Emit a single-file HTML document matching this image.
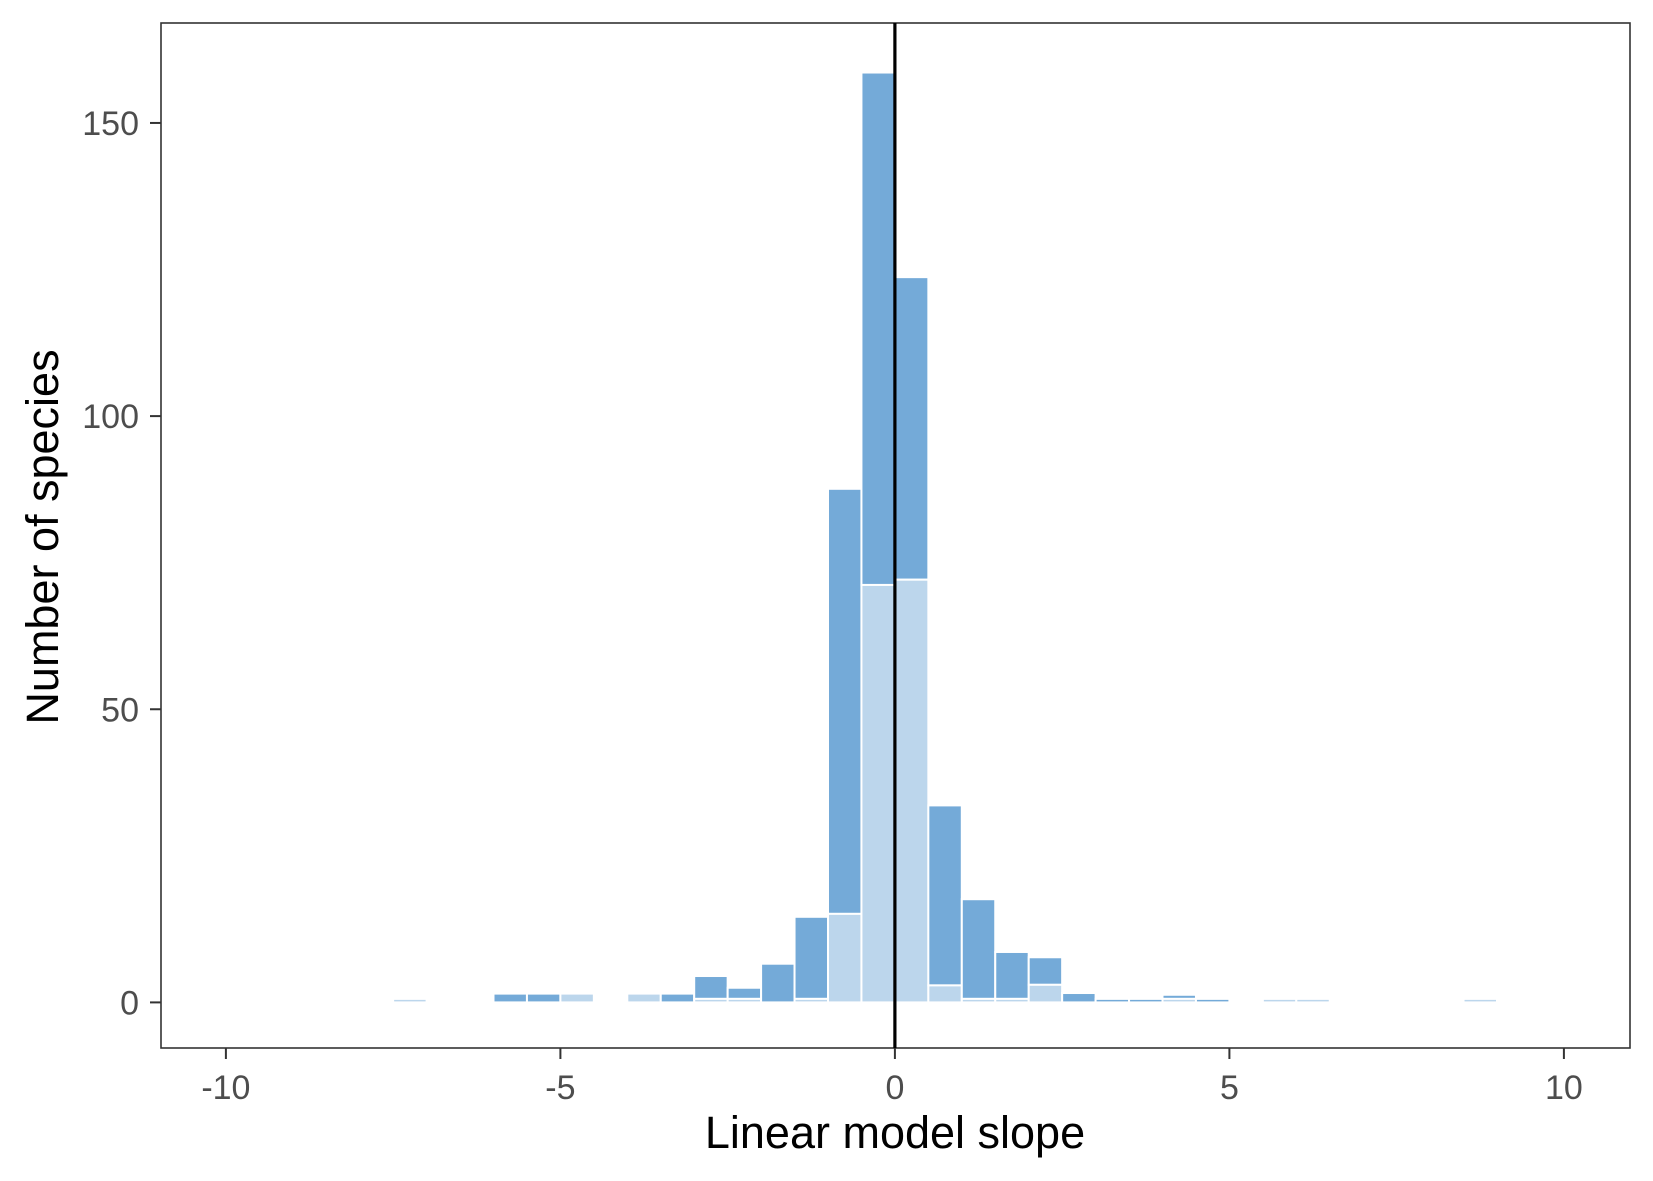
<!DOCTYPE html>
<html><head><meta charset="utf-8"><style>
body{margin:0;background:#fff}
svg{display:block;font-family:"Liberation Sans",sans-serif}
</style></head><body>
<svg id="chart" width="1653" height="1181" viewBox="0 0 1653 1181" xmlns="http://www.w3.org/2000/svg">
<rect x="161" y="23" width="1469" height="1025" fill="#fff" stroke="#333" stroke-width="1.6"/>
<g id="bars"></g>
<g id="axes"></g>
<text x="895" y="1148" font-size="45" text-anchor="middle" fill="#000">Linear model slope</text>
<text transform="translate(58,537) rotate(-90)" font-size="45" text-anchor="middle" fill="#000">Number of species</text>
</svg>
<script>
const binCenters=[-7.25,-5.75,-5.25,-4.75,-3.75,-3.25,-2.75,-2.25,-1.75,-1.25,-0.75,-0.25,0.25,0.75,1.25,1.75,2.25,2.75,3.25,3.75,4.25,4.75,5.75,6.25,8.75];
const totalCounts=[0.6,1.5,1.5,1.5,1.5,1.5,4.5,2.5,6.6,14.6,87.6,158.6,123.7,33.6,17.6,8.6,7.7,1.6,0.6,0.6,1.3,0.6,0.6,0.6,0.6];
const lightCounts=[0.6,0,0,1.5,1.5,0,0.6,0.6,0,0.6,15.1,71.2,72.1,2.9,0.6,0.6,3,0,0,0,0.6,0,0.6,0.6,0.6];
const xTicks=[-10,-5,0,5,10];
const yTicks=[0,50,100,150];
const binWidth=0.5;
const NS="http://www.w3.org/2000/svg";
function xs(v){return 894.9+v*66.9;}
function ys(v){return 1002.4-v*5.863;}
function mk(tag,attrs,parent){const e=document.createElementNS(NS,tag);for(const k in attrs)e.setAttribute(k,attrs[k]);parent.appendChild(e);return e;}
const gb=document.getElementById('bars');
binCenters.forEach((c,i)=>{
  const x0=xs(c-binWidth/2),x1=xs(c+binWidth/2);
  const light=lightCounts[i],tot=totalCounts[i];
  if(tot>light){
    const r=mk('rect',{x:x0,y:ys(tot),width:x1-x0,height:ys(light)-ys(tot),fill:'#74aad8',stroke:'#fff','stroke-width':2},gb);
    
    
  }
  if(light>0){
    const r=mk('rect',{x:x0,y:ys(light),width:x1-x0,height:ys(0)-ys(light),fill:'#bcd6ec',stroke:'#fff','stroke-width':2},gb);
    
    
  }
});
const ga=document.getElementById('axes');
const zl=mk('line',{x1:xs(0),x2:xs(0),y1:23,y2:1048,stroke:'#000','stroke-width':3.2},ga);


xTicks.forEach(v=>{
  const t=mk('line',{x1:xs(v),x2:xs(v),y1:1048,y2:1059,stroke:'#333','stroke-width':2},ga);
  
  
  const l=mk('text',{x:xs(v),y:1099,'font-size':34,'text-anchor':'middle',fill:'#4d4d4d'},ga);
  l.textContent=String(v);
  
  
});
yTicks.forEach(v=>{
  const t=mk('line',{x1:150,x2:161,y1:ys(v),y2:ys(v),stroke:'#333','stroke-width':2},ga);
  
  
  const l=mk('text',{x:139,y:ys(v)+12,'font-size':34,'text-anchor':'end',fill:'#4d4d4d'},ga);
  l.textContent=String(v);
  
  
});
</script>
</body></html>
